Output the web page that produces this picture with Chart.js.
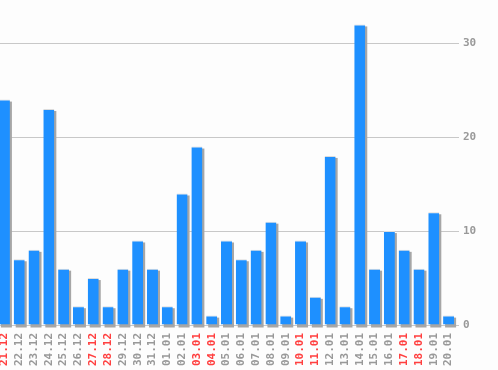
<!DOCTYPE html>
<html>
<head>
<meta charset="utf-8">
<script src="https://cdn.jsdelivr.net/npm/chart.js@4"></script>
<style>
  html, body { margin: 0; padding: 0; background: #fdfdfd; overflow: hidden; }
  #wrap { position: absolute; left: -3px; top: 0; width: 501px; height: 370px; }
</style>
</head>
<body>
<div id="wrap"><canvas id="chartDias"></canvas></div>
<script>
const dias = ['21.12', '22.12', '23.12', '24.12', '25.12', '26.12', '27.12', '28.12', '29.12', '30.12',
  '31.12', '01.01', '02.01', '03.01', '04.01', '05.01', '06.01', '07.01', '08.01', '09.01',
  '10.01', '11.01', '12.01', '13.01', '14.01', '15.01', '16.01', '17.01', '18.01', '19.01', '20.01'];
const valores = [24, 7, 8, 23, 6, 2, 5, 2, 6, 9, 6, 2, 14, 19, 1, 9, 7, 8, 11, 1, 9, 3, 18, 2, 32, 6, 10, 8, 6, 12, 1];
const findesemana = ['21.12', '27.12', '28.12', '03.01', '04.01', '10.01', '11.01', '17.01', '18.01'];
const ticksY = [0, 10, 20, 30];

// sombra gris a la derecha y abajo de cada barra
const sombra = {
  id: 'sombra',
  beforeDatasetsDraw(chart) {
    const ctx = chart.ctx;
    const meta = chart.getDatasetMeta(0);
    ctx.save();
    ctx.fillStyle = '#a6a6a6';
    meta.data.forEach(bar => {
      const p = bar.getProps(['x', 'y', 'base', 'width'], true);
      ctx.fillRect(p.x - p.width / 2 + 2, p.y + 2, p.width, p.base - p.y + 1);
    });
    ctx.restore();
  }
};

const ctxDias = document.getElementById('chartDias').getContext('2d');
new Chart(ctxDias, {
  type: 'bar',
  data: {
    labels: dias,
    datasets: [{
      data: valores,
      backgroundColor: '#1e90ff',
      borderColor: '#dcdcdc',
      borderWidth: { top: 1, left: 0, right: 0, bottom: 0 },
      borderSkipped: false,
      categoryPercentage: 0.8,
      barPercentage: 0.93
    }]
  },
  options: {
    responsive: true,
    maintainAspectRatio: false,
    animation: false,
    layout: { padding: 0 },
    plugins: {
      legend: { display: false },
      tooltip: { enabled: false }
    },
    scales: {
      x: {
        grid: { display: false, drawTicks: false },
        border: { display: false },
        afterFit: axis => { axis.height = 45; axis.paddingLeft = 0; axis.paddingRight = 0; },
        ticks: {
          autoSkip: false,
          minRotation: 90,
          maxRotation: 90,
          padding: 8,
          font: { family: 'DejaVu Sans Mono', size: 11, weight: 'bold' },
          color: ctx => findesemana.includes(dias[ctx.index]) ? '#ff4040' : '#999999'
        }
      },
      y: {
        position: 'right',
        min: 0,
        max: 34.6,
        border: { display: false },
        grid: { color: '#c8c8c8', lineWidth: 1, tickLength: 3 },
        afterFit: axis => { axis.width = 42; axis.paddingTop = 0; axis.paddingBottom = 0; },
        afterBuildTicks: axis => { axis.ticks = ticksY.map(v => ({ value: v })); },
        ticks: {
          padding: 4,
          font: { family: 'DejaVu Sans Mono', size: 11, weight: 'bold' },
          color: '#999999'
        }
      }
    }
  },
  plugins: [sombra]
});
</script>
</body>
</html>
